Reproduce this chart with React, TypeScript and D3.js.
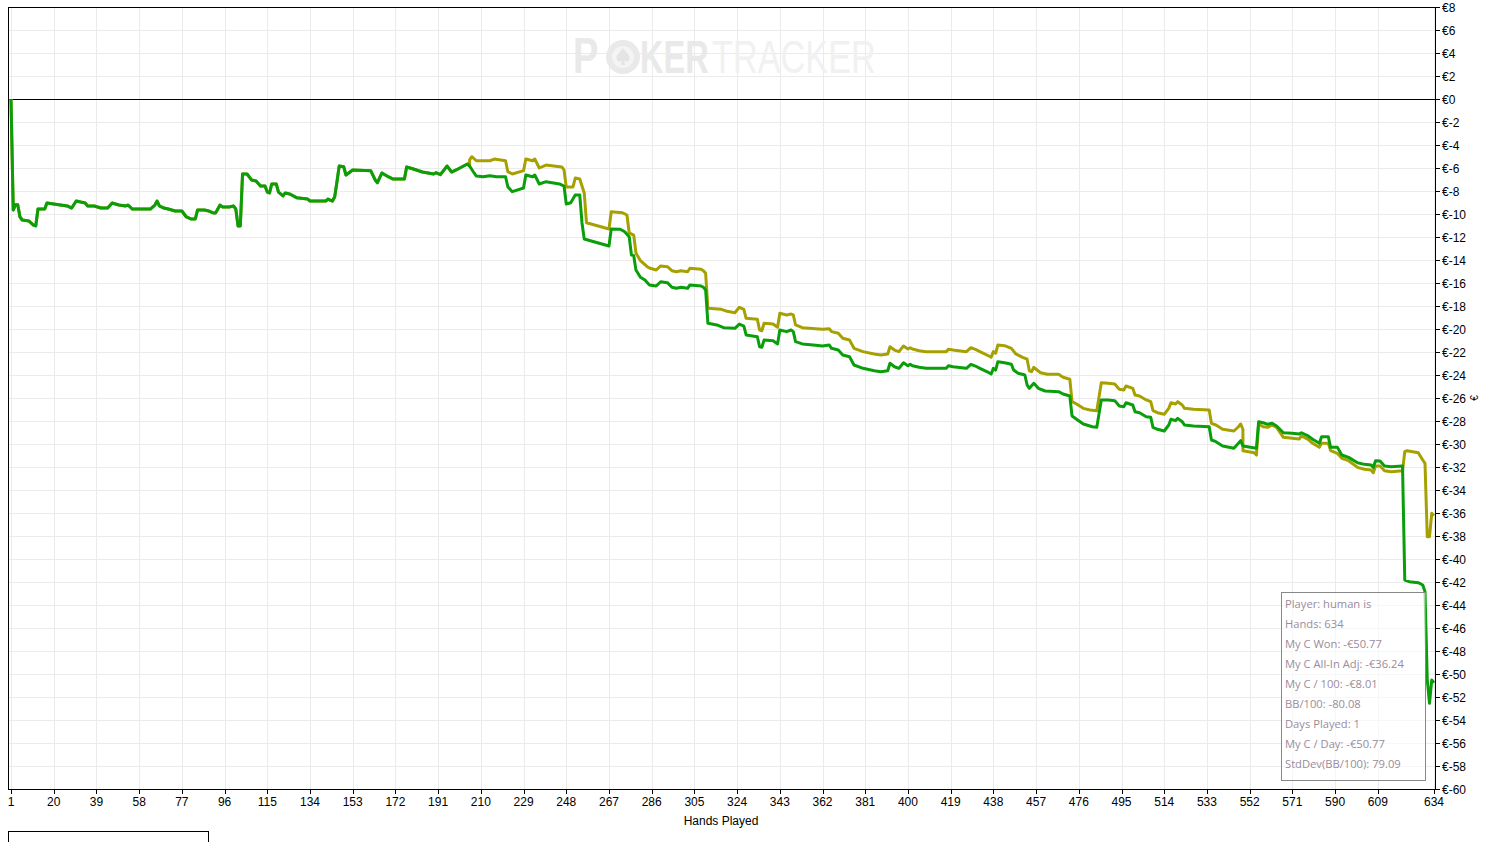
import React from 'react';
import * as d3 from 'd3';

// [hand, €] pairs; both lines share the start
const sharedStart: [number, number][] = [
  [1, 0], [2, -9.65], [3, -9.2], [4, -9.2], [5, -10.26], [6, -10.52], [9, -10.61], [11, -10.96], [12, -11.04],
  [13, -9.57], [16, -9.57], [17, -9.04], [20, -9.13], [23, -9.22], [26, -9.3], [28, -9.48], [30, -8.87], [32, -8.96],
  [34, -9.04], [35, -9.3], [38, -9.3], [41, -9.48], [44, -9.48], [46, -9.04], [49, -9.22], [52, -9.3], [53, -9.22],
  [54, -9.39], [55, -9.57], [58, -9.57], [63, -9.57], [65, -9.22], [66, -8.87], [67, -9.3], [69, -9.48], [71, -9.57],
  [74, -9.74], [77, -9.74], [79, -10.26], [81, -10.43], [83, -10.43], [84, -9.65], [87, -9.65], [89, -9.74],
  [91, -9.91], [92, -9.91], [94, -9.22], [95, -9.39], [98, -9.39], [100, -9.3], [101, -9.57], [102, -11.04],
  [103, -11.04], [104, -6.52], [106, -6.52], [108, -7.04], [110, -7.13], [112, -7.57], [114, -7.57], [115, -8.09],
  [116, -8.17], [117, -7.39], [119, -7.39], [120, -8.09], [122, -8.43], [123, -8.17], [125, -8.26], [128, -8.58],
  [133, -8.7], [134, -8.87], [141, -8.87], [142, -8.7], [144, -8.87], [145, -8.5], [146, -7.2], [147, -5.83],
  [149, -5.89], [150, -6.61], [153, -6.17], [161, -6.23], [163, -7.04], [164, -7.28], [166, -6.43], [169, -6.78],
  [171, -6.96], [176, -6.96], [177, -5.91], [180, -6.09], [184, -6.35], [189, -6.52], [190, -6.41], [192, -6.58],
  [195, -5.83], [197, -6.35], [199, -6.17], [204, -5.65], [205, -5.83],
];

// My C Won
const wonLate: [number, number][] = [
  [207, -6.43], [208, -6.7], [211, -6.76], [214, -6.67], [217, -6.76], [221, -6.76], [222, -7.63], [224, -8.06],
  [229, -7.74], [230, -6.61], [233, -6.76], [234, -6.61], [236, -7.39], [239, -7.19], [245, -7.39], [247, -7.57],
  [248, -9.13], [250, -9.02], [252, -8.35], [254, -8.35], [255, -10.78], [256, -12.17], [267, -12.78], [268, -11.3],
  [272, -11.33], [274, -11.54], [276, -11.98], [277, -13.57], [278, -13.6], [279, -14.87], [281, -15.5], [283, -15.74],
  [285, -16.17], [288, -16.26], [290, -15.89], [293, -15.97], [295, -16.37], [297, -16.46], [299, -16.37],
  [302, -16.46], [303, -16.17], [308, -16.26], [309, -16.37], [310, -16.61], [311, -19.5], [315, -19.65],
  [318, -19.89], [323, -19.94], [325, -19.57], [327, -19.74], [328, -20.52], [333, -20.67], [334, -21.54],
  [335, -21.59], [336, -20.96], [340, -21.02], [342, -21.3], [343, -20.09], [346, -20.23], [348, -20.09],
  [349, -20.23], [350, -21.1], [353, -21.3], [359, -21.42], [362, -21.48], [365, -21.39], [366, -21.68],
  [369, -21.83], [371, -22.26], [374, -22.41], [376, -23.13], [380, -23.42], [385, -23.63], [388, -23.71],
  [391, -23.63], [392, -22.98], [394, -23.28], [396, -23.42], [398, -22.93], [400, -23.19], [401, -23.07],
  [402, -23.19], [405, -23.33], [408, -23.42], [417, -23.42], [418, -23.19], [420, -23.28], [426, -23.42],
  [428, -23.07], [430, -23.22], [432, -23.42], [436, -23.8], [437, -23.91], [438, -23.42], [439, -23.57],
  [440, -22.84], [443, -22.93], [446, -23.07], [447, -23.57], [449, -23.85], [452, -24], [453, -24.87],
  [454, -25.16], [456, -24.72], [458, -25.16], [461, -25.39], [467, -25.45], [469, -25.65], [472, -25.83],
  [473, -27.57], [475, -27.85], [478, -28.26], [482, -28.5], [484, -28.55], [486, -26.17], [489, -26.17],
  [492, -26.23], [494, -26.7], [496, -26.76], [497, -26.41], [500, -26.61], [501, -27.19], [503, -27.28],
  [506, -27.63], [508, -27.68], [509, -28.55], [511, -28.72], [514, -28.87], [516, -28.35], [517, -27.85],
  [519, -27.97], [520, -27.77], [522, -28.06], [523, -28.35], [527, -28.43], [534, -28.5], [535, -29.65],
  [537, -29.8], [540, -30.17], [545, -30.37], [547, -29.94], [548, -29.71], [549, -30.17], [555, -30.37],
  [556, -28.06], [558, -28.15], [560, -28.29], [562, -28.2], [564, -28.43], [567, -29.02], [571, -29.07],
  [574, -29.13], [575, -29.02], [578, -29.3], [580, -29.59], [583, -29.94], [584, -29.37], [587, -29.37],
  [588, -30.29], [591, -30.29], [593, -30.96], [596, -31.16], [600, -31.63], [603, -31.77], [606, -31.83],
  [607, -32.03], [608, -31.45], [610, -31.48], [612, -31.91], [615, -31.97], [620, -31.91], [621, -41.83],
  [623, -41.97], [627, -42.06], [629, -42.26], [630, -42.84], [631, -50.52], [632, -52.55], [633, -50.52],
  [634, -50.77],
];

// My C All-In Adj
const adjLate: [number, number][] = [
  [205, -5.3], [206, -5.02], [208, -5.37], [214, -5.37], [216, -5.22], [221, -5.37], [222, -6.32], [224, -6.52],
  [229, -6.23], [230, -5.22], [233, -5.37], [234, -5.22], [236, -6], [239, -5.74], [246, -5.91], [247, -6.17],
  [248, -7.65], [251, -7.65], [252, -6.87], [254, -6.96], [256, -8.17], [257, -10.76], [267, -11.3], [268, -9.8],
  [273, -9.89], [275, -10.09], [276, -11.65], [278, -11.83], [279, -13.39], [281, -14.06], [284, -14.58],
  [285, -14.7], [288, -14.87], [290, -14.52], [293, -14.58], [295, -14.93], [297, -15.02], [299, -14.93],
  [302, -15.02], [303, -14.72], [308, -14.81], [309, -14.93], [310, -15.16], [311, -18.2], [317, -18.29],
  [319, -18.43], [323, -18.58], [325, -18.11], [327, -18.29], [328, -19.07], [333, -19.16], [334, -20.09],
  [335, -20.15], [336, -19.5], [340, -19.57], [342, -19.85], [343, -18.63], [346, -18.78], [348, -18.7],
  [349, -18.78], [350, -19.65], [353, -19.89], [359, -19.97], [362, -20.03], [365, -19.97], [366, -20.23],
  [369, -20.37], [371, -20.81], [374, -20.96], [376, -21.68], [380, -21.97], [385, -22.17], [388, -22.26],
  [391, -22.17], [392, -21.54], [394, -21.83], [396, -21.97], [398, -21.48], [400, -21.74], [401, -21.63],
  [402, -21.74], [405, -21.89], [408, -21.97], [417, -21.97], [418, -21.77], [420, -21.83], [426, -21.97],
  [428, -21.63], [430, -21.77], [432, -21.97], [436, -22.35], [437, -22.46], [438, -21.97], [439, -22.11],
  [440, -21.39], [443, -21.45], [446, -21.68], [448, -22.17], [451, -22.46], [453, -22.63], [454, -23.63],
  [455, -23.71], [456, -23.33], [457, -23.5], [459, -23.8], [462, -23.94], [467, -23.94], [469, -24.2],
  [472, -24.37], [473, -26.32], [475, -26.52], [478, -26.9], [481, -27.04], [484, -27.1], [486, -24.67],
  [489, -24.72], [492, -24.78], [494, -25.24], [496, -25.3], [497, -24.96], [500, -25.16], [501, -25.74],
  [503, -25.83], [506, -26.17], [508, -26.32], [509, -27.1], [511, -27.28], [514, -27.42], [516, -26.9],
  [517, -26.41], [519, -26.52], [520, -26.32], [522, -26.61], [523, -26.9], [527, -26.98], [534, -27.04],
  [535, -28.2], [537, -28.35], [540, -28.72], [545, -28.87], [547, -28.5], [548, -28.26], [549, -28.72],
  [549, -30.58], [554, -30.76], [555, -30.96], [556, -28.26], [558, -28.5], [560, -28.55], [562, -28.35],
  [564, -28.55], [567, -29.42], [571, -29.5], [574, -29.57], [575, -29.3], [578, -29.59], [580, -29.94],
  [583, -30.29], [584, -29.94], [587, -29.94], [588, -30.58], [591, -30.81], [593, -31.24], [596, -31.45],
  [600, -32.03], [603, -32.2], [606, -32.26], [607, -32.5], [608, -31.91], [610, -31.91], [612, -32.32],
  [615, -32.41], [620, -32.32], [621, -30.67], [622, -30.58], [627, -30.76], [629, -31.39], [630, -31.68],
  [631, -38.06], [632, -38.06], [633, -36.03], [634, -36.24],
];

const xTicks = [...d3.range(1, 610, 19), 634];
const yTicks = d3.range(-60, 9, 2);

const statLines = [
  'Player: human is',
  'Hands: 634',
  'My C Won: -€50.77',
  'My C All-In Adj: -€36.24',
  'My C / 100: -€8.01',
  'BB/100: -80.08',
  'Days Played: 1',
  'My C / Day: -€50.77',
  'StdDev(BB/100): 79.09',
];

const W = 1496;
const H = 842;
const LEFT = 8;
const RIGHT = 1435;
const TOP = 7;
const BOTTOM = 789;

const GREEN = '#0a9f0a';
const OLIVE = '#a6a100';
const GRID = '#ebebeb';
const FONT = '"Liberation Sans", Arial, sans-serif';

const fmtEuro = (v: number) => `€${v}`;

export default function App() {
  const x = d3.scaleLinear().domain([1, 634]).range([11, 1434]);
  const y = d3.scaleLinear().domain([-60, 8]).range([BOTTOM, TOP]);

  const line = d3
    .line<[number, number]>()
    .x((d) => x(d[0]))
    .y((d) => y(d[1]));

  const wonPath = line([...sharedStart, ...wonLate]) ?? '';
  const adjPath = line([...sharedStart, ...adjLate]) ?? '';

  const legendX = 1281;
  const legendY = 592;

  return (
    <div style={{ position: 'fixed', left: 0, top: 0, width: W, height: H, background: '#fff' }}>
      <svg width={W} height={H} style={{ display: 'block' }} fontFamily={FONT}>
        <rect x={0} y={0} width={W} height={H} fill="#fff" />

        {/* grid */}
        <g shapeRendering="crispEdges">
          {xTicks.map((t) => (
            <line key={'gx' + t} x1={Math.round(x(t)) + 0.5} x2={Math.round(x(t)) + 0.5} y1={TOP} y2={BOTTOM} stroke={GRID} />
          ))}
          {yTicks.map((t) => (
            <line key={'gy' + t} x1={LEFT} x2={RIGHT} y1={Math.round(y(t)) + 0.5} y2={Math.round(y(t)) + 0.5} stroke={GRID} />
          ))}
        </g>

        {/* watermark */}
        <g>
          <circle cx={623} cy={57} r={17} fill="#e9e9e9" />
          <circle cx={623} cy={57} r={11} fill="#f4f4f4" />
          <path d="M623,48 C626,53 631,55 629,60 C628,62 625,62 624,60 L625,65 L621,65 L622,60 C621,62 618,62 617,60 C615,55 620,53 623,48 Z" fill="#e4e4e4" />
          <text transform="translate(573,73) scale(1,1.3)" fontSize={38} fontWeight="bold" fill="#e9e9e9">P</text>
          <text transform="translate(640,73) scale(1,1.41)" fontSize={32.5} fontWeight="bold" fill="#e9e9e9">KER</text>
          <text transform="translate(712,73) scale(1,1.34)" fontSize={34.3} fill="#f1f1f1">TRACKER</text>
        </g>

        {/* zero line */}
        <line x1={LEFT} x2={RIGHT} y1={Math.round(y(0)) + 0.5} y2={Math.round(y(0)) + 0.5} stroke="#000" shapeRendering="crispEdges" />

        {/* series */}
        <path d={adjPath} fill="none" stroke={OLIVE} strokeWidth={3} strokeLinejoin="round" />
        <path d={wonPath} fill="none" stroke={GREEN} strokeWidth={3} strokeLinejoin="round" />

        {/* frame and axes */}
        <g shapeRendering="crispEdges" stroke="#000">
          <line x1={LEFT + 0.5} x2={LEFT + 0.5} y1={TOP} y2={BOTTOM + 1} />
          <line x1={LEFT} x2={RIGHT} y1={TOP + 0.5} y2={TOP + 0.5} />
          <line x1={LEFT} x2={RIGHT + 1} y1={BOTTOM + 0.5} y2={BOTTOM + 0.5} />
          <line x1={RIGHT + 0.5} x2={RIGHT + 0.5} y1={TOP} y2={BOTTOM + 1} />
          {yTicks.map((t) => (
            <line key={'ty' + t} x1={RIGHT} x2={RIGHT + 5} y1={Math.round(y(t)) + 0.5} y2={Math.round(y(t)) + 0.5} />
          ))}
          {xTicks.map((t) => (
            <line key={'tx' + t} x1={Math.round(x(t)) + 0.5} x2={Math.round(x(t)) + 0.5} y1={BOTTOM} y2={BOTTOM + 5} />
          ))}
        </g>

        {yTicks.map((t) => (
          <text key={'ly' + t} x={RIGHT + 7} y={y(t) + 1} dy="0.35em" fontSize={12} fill="#000">
            {fmtEuro(t)}
          </text>
        ))}
        {xTicks.map((t) => (
          <text key={'lx' + t} x={x(t)} y={806} textAnchor="middle" fontSize={12} fill="#000">
            {t}
          </text>
        ))}

        <text x={721} y={825} textAnchor="middle" fontSize={12} fill="#000">Hands Played</text>
        <text transform="translate(1478,398) rotate(-90)" textAnchor="middle" fontSize={10} fill="#000">€</text>

        {/* stats box */}
        <rect x={legendX + 0.5} y={legendY + 0.5} width={144} height={188} fill="#fff" fillOpacity={0.6} stroke="#888" shapeRendering="crispEdges" />
        {statLines.map((s, i) => (
          <text key={s} x={legendX + 4} y={legendY + 16 + i * 20} fontSize={11.2} fill="#998c9b" fontFamily='"Open Sans", "Noto Sans", sans-serif'>
            {s}
          </text>
        ))}

        {/* cut-off box at bottom */}
        <path d={`M${LEFT + 0.5},${H} V831.5 H208.5 V${H}`} fill="none" stroke="#000" shapeRendering="crispEdges" />
      </svg>
    </div>
  );
}
